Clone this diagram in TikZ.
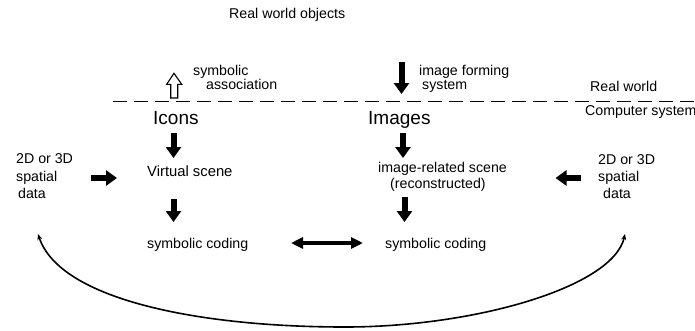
\documentclass[tikz,border=0pt]{standalone}
\usepackage{fontspec}
\setmainfont{Liberation Sans}
\usetikzlibrary{arrows.meta}
\begin{document}
\begin{tikzpicture}[x=1pt,y=-1pt,
  lbl/.style={anchor=base west,inner sep=0pt,font=\fontsize{14.2}{17}\selectfont},
  big/.style={anchor=base west,inner sep=0pt,font=\fontsize{19}{22}\selectfont},
  blockarrow/.style={line width=6pt,-{Triangle[width=15pt,length=11pt]}},
  dblarrow/.style={line width=4.5pt,{Triangle[width=11pt,length=12pt]}-{Triangle[width=11pt,length=12pt]}},
  hollowarrow/.style={draw,line width=1.1pt,fill=white,line join=miter},
  sep/.style={line width=1pt,dash pattern=on 14pt off 7pt},
  loop/.style={line width=1.6pt,{Stealth[length=6pt,width=5pt]}-{Stealth[length=6pt,width=5pt]}}
]
\useasboundingbox (0,0) rectangle (695,330);

% texts
\node[lbl] (rwo) at (229,18.5) {Real world objects};
\node[lbl] (symb) at (193,75.5) {symbolic};
\node[lbl] (assoc) at (206,89.5) {association};
\node[lbl] (imf) at (419,75.5) {image forming};
\node[lbl] (sys) at (422,89.5) {system};
\node[lbl] (rw) at (590,91) {Real world};
\node[lbl] (cs) at (585,115.5) {Computer system};
\node[big] (icons) at (153,124) {Icons};
\node[big] (images) at (368,124) {Images};
\node[lbl,font=\fontsize{14.8}{17}\selectfont] (vs) at (147,176) {Virtual scene};
\node[lbl] (irs) at (378,172.5) {image-related scene};
\node[lbl] (rec) at (390,188.5) {(reconstructed)};
\node[lbl] (scl) at (147,248.5) {symbolic coding};
\node[lbl] (scr) at (385,248.5) {symbolic coding};
\node[lbl] (l1) at (16,163) {2D or 3D};
\node[lbl] (l2) at (16,181) {spatial};
\node[lbl] (l3) at (18,198) {data};
\node[lbl] (r1) at (598,164.5) {2D or 3D};
\node[lbl] (r2) at (598,181) {spatial};
\node[lbl] (r3) at (603,198) {data};

% separator
\coordinate (sepL) at (113,101);
\coordinate (sepR) at (700,101);
\draw[sep] (sepL) -- (sepR);

% hollow arrow (symbolic association)
\draw[hollowarrow] (174,73.3) -- (181.7,84.3) -- (177.7,84.3) -- (177.7,98)
  -- (170.7,98) -- (170.7,84.3) -- (166.7,84.3) -- cycle;

% block arrows
\coordinate (a1s) at (401.5,62); \coordinate (a1e) at (401.5,94);
\draw[blockarrow] (a1s) -- (a1e);
\coordinate (a2s) at (173.5,133); \coordinate (a2e) at (173.5,158);
\draw[blockarrow] (a2s) -- (a2e);
\coordinate (a3s) at (403,133); \coordinate (a3e) at (403,158);
\draw[blockarrow] (a3s) -- (a3e);
\coordinate (a4s) at (173.5,199); \coordinate (a4e) at (173.5,222);
\draw[blockarrow] (a4s) -- (a4e);
\coordinate (a5s) at (404.5,197); \coordinate (a5e) at (404.5,222);
\draw[blockarrow] (a5s) -- (a5e);
\coordinate (a6s) at (91,178); \coordinate (a6e) at (117,178);
\draw[blockarrow] (a6s) -- (a6e);
\coordinate (a7s) at (581,178); \coordinate (a7e) at (555.5,178);
\draw[blockarrow] (a7s) -- (a7e);
\coordinate (dL) at (291,243); \coordinate (dR) at (363,243);
\draw[dblarrow] (dL) -- (dR);

% loop curve
\coordinate (cL) at (38,234);
\coordinate (cB) at (345,327);
\coordinate (cR) at (625,234);
\draw[loop] (cL) .. controls (60,300) and (200,327) .. (cB)
  .. controls (475,327) and (613,287) .. (cR);
\end{tikzpicture}
\end{document}
